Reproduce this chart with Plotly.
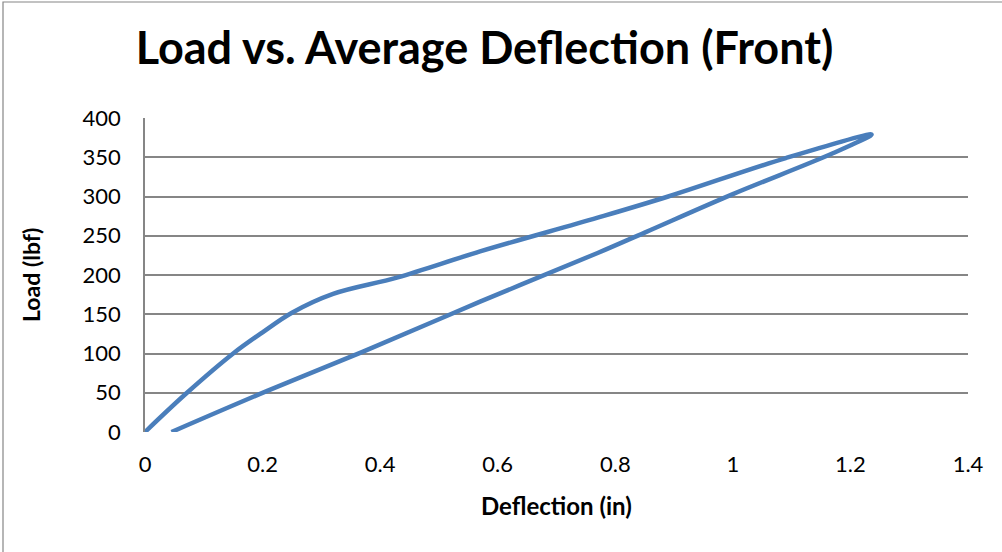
import plotly.graph_objects as go

# Loading branch then unloading branch (in, lbf)
deflection = [0.0, 0.07, 0.15, 0.20, 0.25, 0.32, 0.43, 0.57, 0.77, 0.89, 1.09, 1.236,
              1.17, 1.00, 0.85, 0.77, 0.57, 0.37, 0.21, 0.045]
load = [0, 49, 100, 127, 152, 176, 197, 230, 273, 300, 349, 379,
        355, 303, 254, 228, 166, 102, 53, 0]

x_ticks = [0, 0.2, 0.4, 0.6, 0.8, 1, 1.2, 1.4]
x_tick_text = ["0", "0.2", "0.4", "0.6", "0.8", "1", "1.2", "1.4"]
y_ticks = [0, 50, 100, 150, 200, 250, 300, 350, 400]

FONT = "Lato"
GRID = "#868686"

fig = go.Figure()
fig.add_trace(go.Scatter(
    x=deflection, y=load, mode="lines",
    line=dict(color="#4A7EBB", width=4.5, shape="spline", smoothing=1.0),
    showlegend=False, hoverinfo="x+y",
))

L, R, T, B = 145, 34, 118, 120
W, H = 1002, 552
pw, ph = W - L - R, H - T - B

fig.update_layout(
    width=W, height=H,
    margin=dict(l=L, r=R, t=T, b=B),
    paper_bgcolor="white", plot_bgcolor="white",
    font=dict(family=FONT, color="black", size=22),
    title=dict(text="<b>Load vs. Average Deflection (Front)</b>",
               x=484.5 / W, xref="container", xanchor="center",
               y=1 - 48 / H, yref="container", yanchor="middle",
               font=dict(family=FONT, size=45, color="black")),
    xaxis=dict(range=[0, 1.4], tickvals=x_ticks, ticktext=x_tick_text,
               showgrid=False, zeroline=False, showline=False,
               ticks="", ticklabelstandoff=17,
               tickfont=dict(family=FONT, size=22)),
    yaxis=dict(range=[0, 400], tickvals=y_ticks,
               showgrid=True, gridcolor=GRID, gridwidth=1.5,
               zeroline=False, showline=True, linecolor=GRID, linewidth=1.5,
               ticks="", ticklabelstandoff=18,
               tickfont=dict(family=FONT, size=22)),
    annotations=[
        dict(text="<b>Deflection (in)</b>", xref="paper", yref="paper",
             x=(556 - L) / pw, y=-(505 - (H - B)) / ph,
             xanchor="center", yanchor="middle", showarrow=False,
             font=dict(family=FONT, size=24)),
        dict(text="<b>Load (lbf)</b>", xref="paper", yref="paper",
             x=(31 - L) / pw, y=(H - B - 275) / ph, textangle=-90,
             xanchor="center", yanchor="middle", showarrow=False,
             font=dict(family=FONT, size=23)),
    ],
    shapes=[
        dict(type="rect", xref="paper", yref="paper",
             x0=(3 - L) / pw, x1=(1012 - L) / pw,
             y0=(H - B - 562) / ph, y1=(H - B - 2) / ph,
             line=dict(color=GRID, width=1.2), layer="below"),
    ],
)

fig.write_html("out.html", config={"displayModeBar": False},
               post_script="document.body.style.margin='0';document.body.style.overflow='hidden';")
